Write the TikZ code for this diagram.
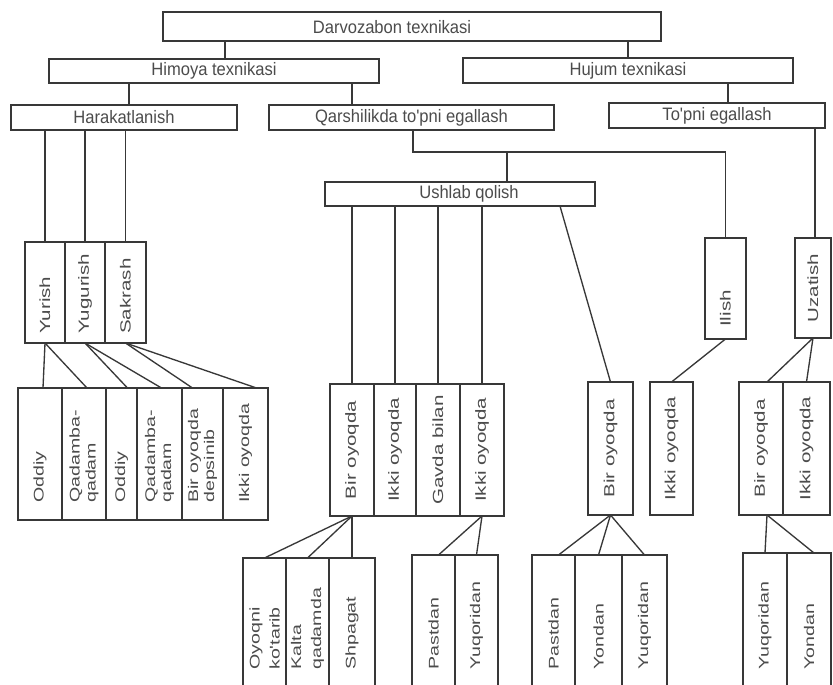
\documentclass[tikz,border=0pt]{standalone}
\usepackage{fontspec}
\setmainfont{Liberation Sans}
\newfontfamily\hfnt[FakeStretch=0.92]{Liberation Sans}
\newfontfamily\vfnt[FakeStretch=1.4]{Liberation Sans}
\usetikzlibrary{fit,calc}
\definecolor{lc}{gray}{0.22}
\definecolor{tc}{gray}{0.30}
\newcommand\bx[3]{\node[boxst, fit={(#2) (#3)}] (#1) {};}
\tikzset{
  boxst/.style={draw=lc, line width=1.1pt, inner sep=0pt, outer sep=0pt},
  conn/.style={draw=lc, line width=1pt},
  htext/.style={font=\hfnt\fontsize{13.5}{15}\selectfont, text=tc, inner sep=0pt},
  vtext/.style={rotate=90, font=\vfnt\fontsize{11}{12}\selectfont, text=tc, inner sep=0pt, align=left},
  vsmall/.style={vtext, font=\vfnt\fontsize{10.5}{12}\selectfont},
}
\begin{document}
\begin{tikzpicture}[x=0.75pt, y=-0.75pt]
\useasboundingbox (0,0) rectangle (833,685);
\fill[white] (0,0) rectangle (833,685);
\clip (0,0) rectangle (833,685);

% ---- boxes ----
\bx{dar}{163,12}{661,41}
\bx{him}{49,59}{379,83}
\bx{huj}{463,58}{793,83}
\bx{har}{11,105}{237,130}
\bx{qar}{269,105}{554,130}
\bx{top}{609,103}{825,128}
\bx{ush}{325,182}{595,206}
\bx{yur}{25,242}{65,343}
\bx{yug}{65,242}{105,343}
\bx{sak}{105,242}{146,343}
\bx{ilish}{705,238}{746,339}
\bx{uzat}{795,238}{831,338}
% left lower row
\bx{odd1}{18,388}{62,520}
\bx{qad1}{62,388}{106,520}
\bx{odd2}{106,388}{137,520}
\bx{qad2}{137,388}{182,520}
\bx{dep}{182,388}{223,520}
\bx{ikk1}{223,388}{268,520}
% middle row
\bx{mbir}{330,384}{374,516}
\bx{mikk}{374,384}{416,516}
\bx{gav}{416,384}{460,516}
\bx{mikk2}{460,384}{504,516}
\bx{rbir}{588,382}{633,515}
\bx{rikk}{650,382}{693,515}
\bx{ubir}{739,382}{783,515}
\bx{uikk}{783,382}{830,515}
% bottom row
\bx{oyo}{243,558}{286,700}
\bx{kal}{286,558}{329,700}
\bx{shp}{329,558}{375,700}
\bx{pas1}{412,555}{455,700}
\bx{yuq1}{455,555}{498,700}
\bx{pas2}{532,555}{575,700}
\bx{yon1}{575,555}{622,700}
\bx{yuq2}{622,555}{667,700}
\bx{yuq3}{743,553}{787,700}
\bx{yon2}{787,553}{831,700}

% ---- horizontal texts ----
\node[htext] (tdar) at (392,27) {Darvozabon texnikasi};
\node[htext] (thim) at (him) {Himoya texnikasi};
\node[htext] (thuj) at (huj) {Hujum texnikasi};
\node[htext] (thar) at (har) {Harakatlanish};
\node[htext] (tqar) at (qar) {Qarshilikda to'pni egallash};
\node[htext] (ttop) at (top) {To'pni egallash};
\node[htext] (tush) at (469,194) {Ushlab qolish};

% ---- vertical texts ----
\coordinate (yl) at (0,503);
\coordinate (yb) at (0,670);
\coordinate (yi) at (0,327);
\coordinate (yy) at (0,334);
\node[vtext, anchor=west] (tyur) at (yur.center |- yy) {Yurish};
\node[vtext, anchor=west] (tyug) at (yug.center |- yy) {Yugurish};
\node[vtext, anchor=west] (tsak) at (sak.center |- yy) {Sakrash};
\node[vtext, anchor=west] (tili) at (ilish.center |- yi) {Ilish};
\node[vtext] (tuza) at (uzat) {Uzatish};

\node[vsmall, anchor=west] (todd1) at (odd1.center |- yl) {Oddiy};
\node[vsmall, anchor=west] (tqad1) at (qad1.center |- yl) {Qadamba-\\qadam};
\node[vsmall, anchor=west] (todd2) at (odd2.center |- yl) {Oddiy};
\node[vsmall, anchor=west] (tqad2) at (qad2.center |- yl) {Qadamba-\\qadam};
\node[vsmall, anchor=west] (tdep) at (dep.center |- yl) {Bir oyoqda\\depsinib};
\node[vsmall, anchor=west] (tikk1) at (ikk1.center |- yl) {Ikki oyoqda};

\node[vtext] (tmbir) at (mbir) {Bir oyoqda};
\node[vtext] (tmikk) at (mikk) {Ikki oyoqda};
\node[vtext] (tgav) at (gav) {Gavda bilan};
\node[vtext] (tmikk2) at (mikk2) {Ikki oyoqda};
\node[vtext] (trbir) at (rbir) {Bir oyoqda};
\node[vtext] (trikk) at (rikk) {Ikki oyoqda};
\node[vtext] (tubir) at (ubir) {Bir oyoqda};
\node[vtext] (tuikk) at (uikk) {Ikki oyoqda};

\node[vsmall, anchor=west, font=\vfnt\fontsize{10.5}{15}\selectfont] (toyo) at (oyo.center |- yb) {Oyoqni\\ko'tarib};
\node[vsmall, anchor=west, font=\vfnt\fontsize{10.5}{15}\selectfont] (tkal) at (kal.center |- yb) {Kalta\\qadamda};
\node[vsmall, anchor=west] (tshp) at (shp.center |- yb) {Shpagat};
\node[vsmall, anchor=west] (tpas1) at (pas1.center |- yb) {Pastdan};
\node[vsmall, anchor=west] (tyuq1) at (yuq1.center |- yb) {Yuqoridan};
\node[vsmall, anchor=west] (tpas2) at (pas2.center |- yb) {Pastdan};
\node[vsmall, anchor=west] (tyon1) at (yon1.center |- yb) {Yondan};
\node[vsmall, anchor=west] (tyuq2) at (yuq2.center |- yb) {Yuqoridan};
\node[vsmall, anchor=west] (tyuq3) at (yuq3.center |- yb) {Yuqoridan};
\node[vsmall, anchor=west] (tyon2) at (yon2.center |- yb) {Yondan};

% ---- connectors ----
\coordinate (c225) at (225,0);
\coordinate (c129) at (129,0);
\coordinate (c352) at (352,0);
\coordinate (c728) at (728,0);
\coordinate (c815) at (815,0);
\coordinate (c560) at (560,0);
\coordinate (qj) at (413,152);
\coordinate (uj) at (507,152);

\draw[conn] (dar.south -| c225) -- (him.north -| c225);
\draw[conn] (dar.south -| huj.north) -- (huj.north);
\draw[conn] (him.south -| c129) -- (har.north -| c129);
\draw[conn] (him.south -| c352) -- (qar.north -| c352);
\draw[conn] (huj.south -| c728) -- (top.north -| c728);
\draw[conn] (qar.south -| qj) -- (qj) -| (ilish.north);
\draw[conn] (uj) -- (ush.north -| uj);
\draw[conn] (top.south -| c815) -- (uzat.north -| c815);

\foreach \n in {yur,yug,sak} \draw[conn] (har.south -| \n.north) -- (\n.north);
\draw[conn] (yur.south) -- ($(odd1.north)+(3,0)$);
\draw[conn] (yur.south) -- ($(qad1.north)+(3,0)$);
\draw[conn] (yug.south) -- ($(odd2.north)+(6,0)$);
\draw[conn] (yug.south) -- ($(qad2.north)+(2,0)$);
\draw[conn] (sak.south) -- ($(dep.north)+(-10,0)$);
\draw[conn] (sak.south) -- ($(ikk1.north)+(11,0)$);

\foreach \n in {mbir,mikk,gav,mikk2} \draw[conn] (ush.south -| \n.north) -- (\n.north);
\draw[conn] (ush.south -| c560) -- (rbir.north);
\draw[conn] (ilish.south) -- (rikk.north);
\draw[conn] (uzat.south) -- ($(ubir.north)+(6,0)$);
\draw[conn] (uzat.south) -- (uikk.north);

\draw[conn] (mbir.south) -- (oyo.north);
\draw[conn] (mbir.south) -- (kal.north);
\draw[conn] (mbir.south) -- (shp.north);
\draw[conn] (mikk2.south) -- ($(pas1.north)+(5,0)$);
\draw[conn] (mikk2.south) -- (yuq1.north);
\draw[conn] (rbir.south) -- ($(pas2.north)+(5,0)$);
\draw[conn] (rbir.south) -- (yon1.north);
\draw[conn] (rbir.south) -- (yuq2.north);
\draw[conn] ($(ubir.south)+(6,0)$) -- (yuq3.north);
\draw[conn] ($(ubir.south)+(6,0)$) -- ($(yon2.north)+(5,0)$);
\end{tikzpicture}
\end{document}
